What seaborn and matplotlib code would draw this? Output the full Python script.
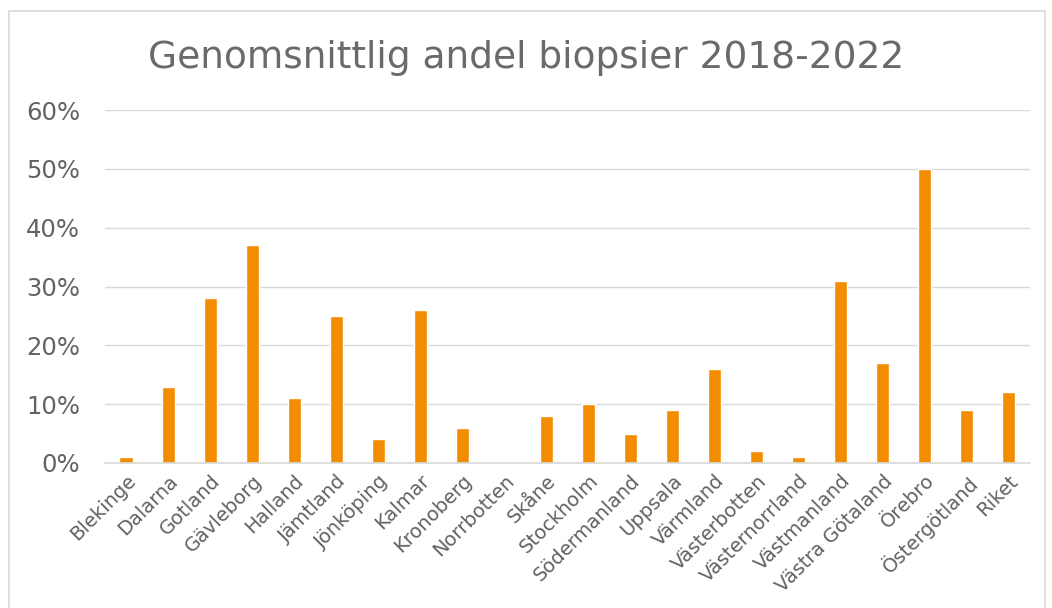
import matplotlib
matplotlib.use("Agg")
import matplotlib.pyplot as plt
import seaborn as sns
import pandas as pd
from matplotlib.ticker import PercentFormatter
from matplotlib.patches import Rectangle

# === Data ===
regions = ["Blekinge", "Dalarna", "Gotland", "Gävleborg", "Halland", "Jämtland",
           "Jönköping", "Kalmar", "Kronoberg", "Norrbotten", "Skåne", "Stockholm",
           "Södermanland", "Uppsala", "Värmland", "Västerbotten", "Västernorrland",
           "Västmanland", "Västra Götaland", "Örebro", "Östergötland", "Riket"]
share = [0.01, 0.13, 0.28, 0.37, 0.11, 0.25, 0.04, 0.26, 0.06, 0.0, 0.08, 0.10,
         0.05, 0.09, 0.16, 0.02, 0.01, 0.31, 0.17, 0.50, 0.09, 0.12]

df = pd.DataFrame({"region": regions, "share": share})

sns.set_style("white")
plt.rcParams['font.family'] = ['DejaVu Sans']
text_gray = "#626262"
grid_gray = "#d9d9d9"

fig = plt.figure(figsize=(10.52, 6.08), dpi=100)
ax = fig.add_axes([0.0998, 0.2385, 0.879, 0.5805])

sns.barplot(data=df, x="region", y="share", color="#f28c00", width=0.31,
            saturation=1, ax=ax)

ax.set_ylim(0, 0.6)
ax.set_yticks([0, 0.1, 0.2, 0.3, 0.4, 0.5, 0.6])
ax.yaxis.set_major_formatter(PercentFormatter(1.0, decimals=0))
ax.grid(axis="y", color=grid_gray, linewidth=1)
ax.set_axisbelow(True)
for s in ["top", "right", "left"]:
    ax.spines[s].set_visible(False)
ax.spines["bottom"].set_color(grid_gray)
ax.spines["bottom"].set_linewidth(1.2)
ax.set_xlim(-0.5, len(regions) - 0.5)

ax.tick_params(axis="both", length=0, colors=text_gray)
ax.tick_params(axis="y", labelsize=17.5, pad=18)
ax.tick_params(axis="x", pad=6)
plt.setp(ax.get_xticklabels(), rotation=45, ha="right", rotation_mode="anchor",
         fontsize=14, color=text_gray)
ax.set_xlabel("")
ax.set_ylabel("")

fig.suptitle("Genomsnittlig andel biopsier 2018-2022", fontsize=27,
             color="#6a6a6a", y=0.935)

# light frame around chart area
fig.patches.append(Rectangle((9 / 1052, -0.01), 1036 / 1052, 1 - 11 / 608 + 0.01,
                             transform=fig.transFigure, fill=False,
                             edgecolor=grid_gray, linewidth=1.2))

plt.savefig("out.png", dpi=100)
plt.close()
